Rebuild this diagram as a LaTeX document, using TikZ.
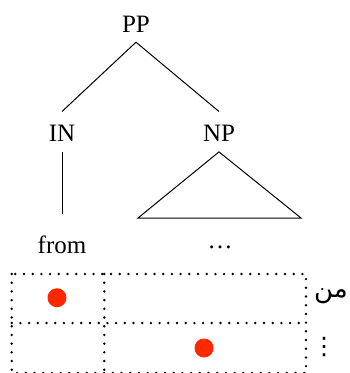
\documentclass[tikz,border=0pt]{standalone}
\usepackage{fontspec}
\setmainfont{Liberation Serif}
\newfontfamily\arabicfont[Script=Arabic]{DejaVu Sans}
\newfontfamily\symfont{DejaVu Sans}
\TeXXeTstate=1
\definecolor{dotred}{RGB}{255,40,0}
\tikzset{
  cat/.style={anchor=base, font=\fontsize{25}{30}\selectfont, inner xsep=2pt, inner ysep=10pt, text height=20pt, text depth=0pt},
  branch/.style={line width=1pt},
  grid/.style={line width=2.7pt, line cap=round, dash pattern=on 0pt off 8.7pt},
  marker/.style={circle, fill=dotred, inner sep=0pt, minimum size=19pt},
}
\begin{document}
\begin{tikzpicture}[x=1pt, y=-1pt]
\useasboundingbox (0,0) rectangle (350,373);
% tree
\node[cat] (PP) at (136,32) {PP};
\node[cat] (IN) at (62,141.7) {IN};
\node[cat] (NP) at (219,141.7) {NP};
\node[cat] (from) at (62,253) {from};
\node[cat] (dots) at (220,248) {\dots};
\coordinate (tl) at (138,218);
\coordinate (tr) at (301,218);
\draw[branch] (PP.south) -- (IN.north);
\draw[branch] (PP.south) -- (NP.north);
\draw[branch, shorten >=9pt] (IN.south) -- (from.north);
\draw[branch] (NP.south) -- (tl) -- (tr) -- cycle;
% grid
\coordinate (g1) at (11.7,274);
\coordinate (g2) at (306,373);
\draw[grid] (g1) rectangle (g2);
\draw[grid] (11.7,323) -- (306,323);
\draw[grid] (104.3,274) -- (104.3,373);
\node[marker] (m1) at (57,297.7) {};
\node[marker] (m2) at (204,348) {};
% labels
\node[font=\arabicfont\fontsize{26}{30}\selectfont, inner sep=0pt] (min) at (331,296) {\beginR من\endR};
\node[font=\symfont\fontsize{24}{28}\selectfont, inner sep=0pt] (vd) at (324,347) {⋮};
\end{tikzpicture}
\end{document}
